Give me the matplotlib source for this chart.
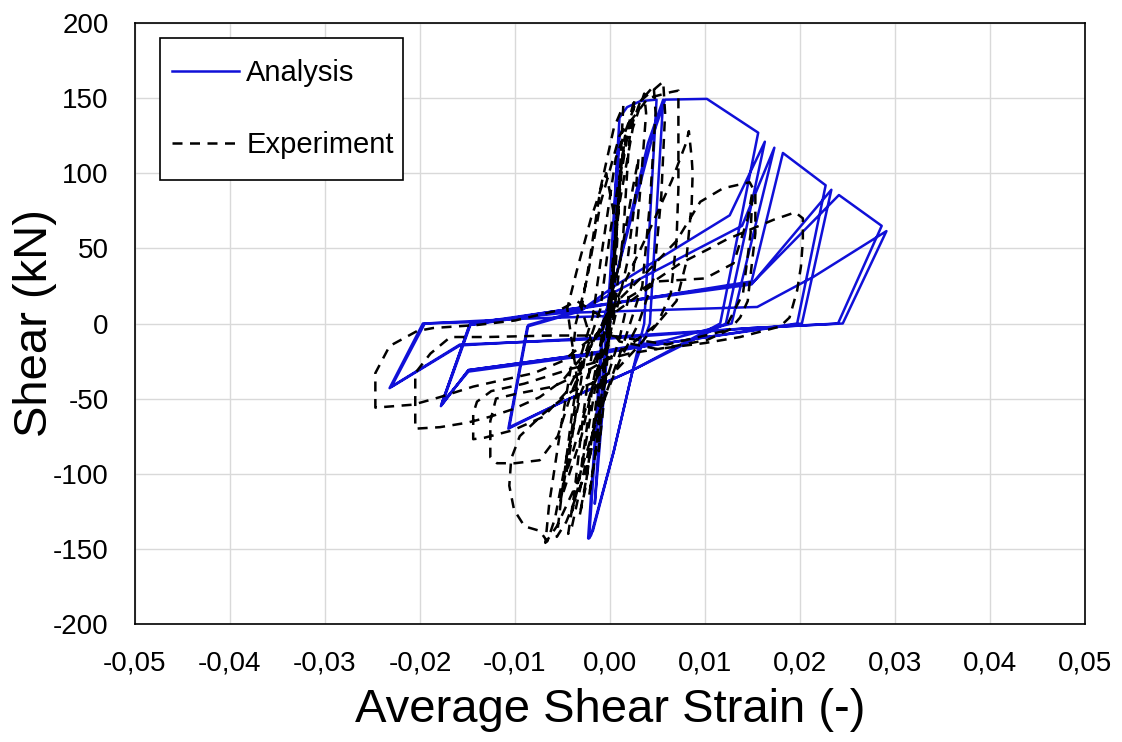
import matplotlib
matplotlib.use('Agg')
import matplotlib.pyplot as plt
from matplotlib.patches import Rectangle
from matplotlib.ticker import FuncFormatter, MultipleLocator

plt.rcParams['font.family'] = ['Liberation Sans', 'DejaVu Sans']

# Analysis: small elastic cycles and first push along the envelope
ana_elastic_x = [0.0, 0.0006, 0.0010, 0.0003, -0.0008, -0.0016, -0.0008, 0.0000,
                 0.0010, 0.0018, 0.0032, 0.0049, 0.0036, 0.0024, 0.0004, -0.0018,
                 -0.0023, -0.0012, -0.0008, 0.0005, 0.0040, 0.0056, 0.0042, 0.0024,
                 0.0004, -0.0020, -0.0022, -0.0011, -0.0007, 0.0005, 0.0045, 0.0058]
ana_elastic_y = [0, 90, 128, 30, -60, -120, -40, 30,
                 137, 144, 148, 149, 0, -31, -85, -138,
                 -143, -40, 0, 28, 120, 149, 0, -31,
                 -85, -141, -143, -40, 0, 28, 125, 149]

# Analysis: cycles around +0.016 / -0.0105
ana_stage1_x = [0.0102, 0.0156, 0.0116, 0.0024, -0.0053, -0.0107, -0.0087, -0.0032,
                0.0005, 0.0126, 0.0163, 0.0122, 0.0024, -0.0053, -0.0106, -0.0086,
                -0.0030, 0.0005, 0.0139, 0.0173, 0.0128]
ana_stage1_y = [149.5, 127, 0, -31, -53, -70, -2, 8,
                25, 72, 121, 0, -31, -53, -69, -1,
                9, 21, 65, 117, 0]

# Analysis: cycles around +0.023 / -0.0177
ana_stage2_x = [0.0060, -0.0032, -0.0149, -0.0177, -0.0147, -0.0060, 0.0149, 0.0182,
                0.0227, 0.0197, 0.0070, -0.0032, -0.0149, -0.0178, -0.0148, -0.0060,
                0.0149, 0.0233, 0.0202, 0.0070, -0.0032, -0.0149, -0.0177, -0.0147,
                -0.0060, 0.0150, 0.0241, 0.0286]
ana_stage2_y = [-11, -21, -31, -54, -1, 7, 28, 113.5,
                92, 0, -12, -21, -31, -55, -1, 8,
                26, 89, 0, -12, -22, -32, -53, 0,
                8, 27, 85.5, 65]

# Analysis: last cycles around +0.029 / -0.023
ana_stage3_x = [0.0240, 0.0150, 0.0000, -0.0158, -0.0232, -0.0197, -0.0140, -0.0050,
                0.0155, 0.0214, 0.0291, 0.0245, 0.0150, 0.0000, -0.0158, -0.0230,
                -0.0195, -0.0100, 0.0000]
ana_stage3_y = [0, -3, -9, -14.6, -43, 0, 1, 7,
                11, 31, 61.5, 0, -3, -10, -14, -42,
                0, 3, 5]

# Experiment: small central cycles
exp_small_x = [0.0, 0.0004, 0.0008, 0.0004, -0.0002, -0.0008, -0.0012, -0.0006,
               0.0000, 0.0006, 0.0012, 0.0016, 0.0010, 0.0004, -0.0006, -0.0016,
               -0.0022, -0.0014, -0.0004, 0.0004, 0.0012, 0.0022, 0.0026, 0.0020,
               0.0014, 0.0004, -0.0010, -0.0024, -0.0032, -0.0026, -0.0016, -0.0008,
               0.0000, 0.0010, 0.0024, 0.0036, 0.0038, 0.0032, 0.0024, 0.0010,
               -0.0010, -0.0028, -0.0040, -0.0044, -0.0038, -0.0028, -0.0018,
               -0.0030, -0.0022, -0.0010, 0.0004, 0.0014, 0.0012, 0.0008, 0.0002,
               -0.0010, -0.0020, -0.0034, -0.0040, -0.0030, -0.0018, -0.0006, 0.0010,
               0.0024, 0.0030, 0.0026, 0.0018, 0.0002, -0.0016, -0.0030, -0.0048,
               -0.0052, -0.0044, -0.0034, -0.0045, -0.0035, -0.0020, -0.0004, 0.0008,
               0.0004, -0.0006, -0.0020, -0.0032, -0.0046, -0.0036, -0.0026]
exp_small_y = [0, 40, 80, 50, 0, -50, -85, -50,
               0, 60, 105, 125, 95, 30, -30, -90,
               -115, -80, -20, 40, 100, 140, 150, 120,
               60, 5, -40, -100, -128, -110, -60, -15,
               20, 80, 130, 153, 140, 90, 30, -10,
               -50, -100, -135, -140, -115, -60, -15,
               10, 40, 90, 130, 145, 120, 70, 20,
               -20, -60, -110, -125, -95, -40, 0, 40,
               90, 110, 80, 40, -5, -35, -75, -110,
               -118, -90, -40, 10, 35, 70, 100, 60,
               15, -25, -45, -70, -100, -60, -20]

# Experiment: medium cycles
exp_mid_x = [-0.0010, 0.0000, 0.0016, 0.0032, 0.0046, 0.0048, 0.0042, 0.0034,
             0.0016, -0.0006, -0.0026, -0.0046, -0.0056, -0.0052, -0.0040, -0.0030,
             -0.0018, -0.0008, 0.0006, 0.0026, 0.0045, 0.0056, 0.0058, 0.0054,
             0.0046, 0.0030, 0.0010, -0.0012, -0.0034, -0.0056, -0.0068, -0.0064,
             -0.0052, -0.0040, -0.0036, -0.0024, -0.0010, 0.0010, 0.0040, 0.0064,
             0.0072, 0.0072, 0.0072, 0.0070, 0.0064, 0.0050, 0.0030, 0.0008,
             -0.0020, -0.0040, -0.0070, -0.0095, -0.0104, -0.0106, -0.0101, -0.0090,
             -0.0074, -0.0066, -0.0058, -0.0046, -0.0030, -0.0010, 0.0010, 0.0040,
             0.0065, 0.0080, 0.0083, 0.0086, 0.0087, 0.0086, 0.0080, 0.0070,
             0.0050, 0.0020, -0.0020, -0.0060, -0.0100, -0.0120, -0.0126, -0.0126,
             -0.0119, -0.0100, -0.0074, -0.0055, -0.0040, -0.0020]
exp_mid_y = [10, 60, 120, 148, 158, 140, 80, 25,
             -10, -50, -100, -132, -142, -120, -60, -20,
             5, 50, 110, 145, 155, 161, 140, 85,
             30, 0, -25, -60, -105, -135, -146, -120,
             -70, -25, 0, 30, 80, 125, 150, 154,
             155, 130, 90, 55, 20, 0, -15, -30,
             -40, -45, -60, -75, -90, -108, -124, -135,
             -138, -145, -130, -90, -45, -15, 20, 60,
             95, 120, 128, 110, 100, 80, 40, 15,
             0, -15, -30, -42, -47, -50, -65, -89,
             -93, -93, -91, -75, -45, -15]

# Experiment: large cycles
exp_large_x = [0.0000, 0.0040, 0.0070, 0.0095, 0.0119, 0.0147, 0.0153, 0.0153,
               0.0147, 0.0145, 0.0137, 0.0126, 0.0102, 0.0060, 0.0020, -0.0040,
               -0.0090, -0.0125, -0.0140, -0.0144, -0.0144, -0.0132, -0.0102, -0.0070,
               -0.0045, -0.0025, 0.0000, 0.0050, 0.0100, 0.0130, 0.0145, 0.0150,
               0.0148, 0.0140, 0.0120, 0.0060, 0.0000, -0.0060, -0.0130, -0.0168,
               -0.0189, -0.0205, -0.0205, -0.0179, -0.0150, -0.0126, -0.0102, -0.0074,
               -0.0050, -0.0020, 0.0000, 0.0032, 0.0053, 0.0074, 0.0102, 0.0123,
               0.0153, 0.0172, 0.0195, 0.0203, 0.0203, 0.0201, 0.0197, 0.0189,
               0.0179, 0.0155, 0.0137, 0.0100, 0.0050, 0.0010, -0.0010, -0.0035,
               -0.0053, -0.0100, -0.0140, -0.0186, -0.0203, -0.0232, -0.0247, -0.0247,
               -0.0207, -0.0179, -0.0144, -0.0116, -0.0080, -0.0050, -0.0020, 0.0000]
exp_large_y = [10, 35, 55, 81, 90, 94, 87, 60,
               27, 15, 4, -4, -11, -16, -20, -30,
               -40, -45, -52, -60, -77, -76, -71, -62,
               -45, -20, 5, 28, 30, 40, 70, 88,
               60, 20, -5, -14, -8, -8, -9, -9,
               -20, -33, -70, -69, -66, -62, -57, -49,
               -38, -15, 10, 22, 31, 40, 49, 56,
               64, 69, 74, 70, 55, 38, 22, 4,
               -2, -6, -9, -13, -17, -12, 5, 15,
               9, 2, -1, -3, -5, -15, -33, -56,
               -54, -49, -42, -38, -33, -25, -10, 0]

ana_x = ana_elastic_x + ana_stage1_x + ana_stage2_x + ana_stage3_x
ana_y = ana_elastic_y + ana_stage1_y + ana_stage2_y + ana_stage3_y
exp_x = exp_small_x + exp_mid_x + exp_large_x
exp_y = exp_small_y + exp_mid_y + exp_large_y

fig = plt.figure(figsize=(11.22, 7.42), dpi=100)
ax = fig.add_axes([135 / 1122, 118 / 742, 950 / 1122, 601 / 742])

ax.plot(ana_x, ana_y, color='#1010d8', lw=1.8, label='Analysis', zorder=3)
ax.plot(exp_x, exp_y, color='black', lw=1.8, linestyle=(0, (4, 3)),
        label='Experiment', zorder=4)

ax.set_xlim(-0.05, 0.05)
ax.set_ylim(-200, 200)
ax.xaxis.set_major_locator(MultipleLocator(0.01))
ax.yaxis.set_major_locator(MultipleLocator(50))


def comma_fmt(v, pos):
    s = f"{v:.2f}"
    if s == "-0.00":
        s = "0.00"
    return s.replace('.', ',')


ax.xaxis.set_major_formatter(FuncFormatter(comma_fmt))
ax.yaxis.set_major_formatter(FuncFormatter(lambda v, p: f"{v:.0f}"))
ax.tick_params(length=0, labelsize=20)
ax.tick_params(axis='x', pad=19)
ax.tick_params(axis='y', pad=19)
ax.grid(True, color='#d9d9d9', lw=1.0, zorder=0)
ax.set_axisbelow(True)
for sp in ax.spines.values():
    sp.set_linewidth(1.2)
    sp.set_color('black')

ax.set_xlabel('Average Shear Strain (-)', fontsize=34, labelpad=8)
ax.set_ylabel('Shear (kN)', fontsize=34)
ax.yaxis.set_label_coords(-0.082, 0.5)

# legend box drawn separately so its proportions match the original
ax.add_patch(Rectangle((0.0263, 0.7388), 0.2558, 0.2363, transform=ax.transAxes,
                       facecolor='white', edgecolor='black', lw=1.2, zorder=5))
leg = ax.legend(loc='upper left', bbox_to_anchor=(0.039, 0.940), borderaxespad=0,
                fontsize=21, frameon=False, handlelength=2.3, handletextpad=0.25,
                labelspacing=1.5, borderpad=0)
leg.set_zorder(6)

fig.savefig('out.png', dpi=100)
